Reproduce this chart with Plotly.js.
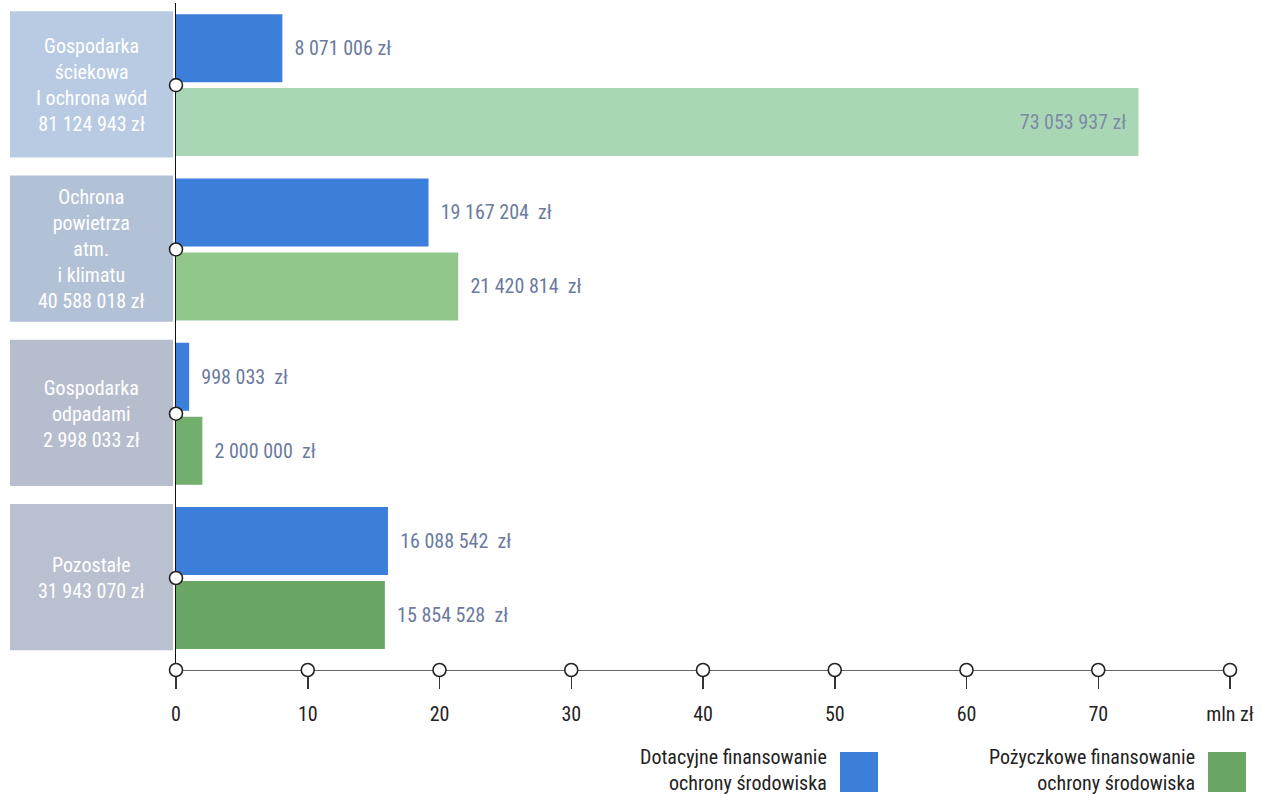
<!DOCTYPE html>
<html>
<head>
<meta charset="utf-8">
<script src="https://cdn.plot.ly/plotly-3.0.1.min.js"></script>
<style>html,body{margin:0;padding:0;background:#fff;}#chart{width:1263px;height:796px;}</style>
</head>
<body>
<div id="chart"></div>
<script>
// ---- data ----
const categories = ['Gospodarka ściekowa i ochrona wód', 'Ochrona powietrza atm. i klimatu', 'Gospodarka odpadami', 'Pozostałe'];
const categoryLabels = [
  'Gospodarka<br>ściekowa<br>I ochrona wód<br>81 124 943 zł',
  'Ochrona<br>powietrza<br>atm.<br>i klimatu<br>40 588 018 zł',
  'Gospodarka<br>odpadami<br>2 998 033 zł',
  'Pozostałe<br>31 943 070 zł'
];
const dotacyjne = [8.071006, 19.167204, 0.998033, 16.088542];   // mln zł
const pozyczkowe = [73.053937, 21.420814, 2.000000, 15.854528]; // mln zł
const dotacyjneText = ['8 071 006 zł', '19 167 204\u00a0 zł', '998 033\u00a0 zł', '16 088 542\u00a0 zł'];
const pozyczkoweText = ['73 053 937 zł', '21 420 814\u00a0 zł', '2 000 000\u00a0 zł', '15 854 528\u00a0 zł'];
const tickVals = [0, 10, 20, 30, 40, 50, 60, 70, 80];
const tickText = ['0', '10', '20', '30', '40', '50', '60', '70', 'mln zł'];
const legendNames = ['Dotacyjne finansowanie<br>ochrony środowiska', 'Pożyczkowe finansowanie<br>ochrony środowiska'];

// ---- styles ----
const FONT = '"Roboto Condensed", "Liberation Sans Narrow", "DejaVu Sans Condensed", Roboto, sans-serif';
const blue = '#3b7fda';
const greens = ['#a9d7b6', '#92c78b', '#72ae6c', '#6aa765'];
const boxColors = ['#b8cbe3', '#b3c1d7', '#b6bece', '#b9c0cf'];
const labelColor = '#6b7a9e';

const W = 1263, H = 796, ML = 176, MR = 33, MT = 3, MB = 126;
const PW = W - ML - MR, PH = H - MT - MB;
const pxX = p => (p - ML) / PW;
const pxY = p => (H - MB - p) / PH;

const pad = s => '\u00a0\u00a0' + s;

const traces = [
  {
    type: 'bar', orientation: 'h', name: 'Dotacyjne',
    y: categories, x: dotacyjne,
    marker: {color: blue},
    text: dotacyjneText.map(pad), textposition: 'outside', constraintext: 'none', cliponaxis: false,
    outsidetextfont: {family: FONT, size: 20, color: labelColor},
    hoverinfo: 'none'
  },
  {
    type: 'bar', orientation: 'h', name: 'Pożyczkowe',
    y: categories, x: pozyczkowe,
    marker: {color: greens},
    text: pozyczkoweText.map((t, i) => i === 0 ? t + '\u00a0\u00a0' : pad(t)),
    textposition: pozyczkowe.map((v, i) => i === 0 ? 'inside' : 'outside'),
    insidetextanchor: 'end', constraintext: 'none', cliponaxis: false,
    insidetextfont: {family: FONT, size: 20, color: '#7c8aa3'},
    outsidetextfont: {family: FONT, size: 20, color: labelColor},
    hoverinfo: 'none'
  },
  {
    type: 'scatter', mode: 'markers', x: categories.map(() => 0), y: categories,
    marker: {size: 13, color: '#ffffff', line: {color: '#222', width: 1.6}},
    cliponaxis: false, hoverinfo: 'none'
  },
  {
    type: 'scatter', mode: 'markers', x: tickVals, y: tickVals.map(() => 0), yaxis: 'y2',
    marker: {size: 13, color: '#ffffff', line: {color: '#222', width: 1.6}},
    cliponaxis: false, hoverinfo: 'none'
  }
];

const shapes = [];
const annotations = [];
categories.forEach((c, i) => {
  shapes.push({type: 'rect', xref: 'paper', yref: 'y', x0: pxX(10), x1: pxX(173), y0: i - 0.45, y1: i + 0.44,
    fillcolor: boxColors[i], line: {width: 0}, layer: 'below'});
  annotations.push({xref: 'paper', yref: 'y', x: pxX(91), y: i, text: categoryLabels[i], showarrow: false,
    xanchor: 'center', yanchor: 'middle', align: 'center',
    font: {family: FONT, size: 20, color: '#ffffff'}});
});

// legend
const legendItems = [
  {text: legendNames[0], right: 829, sq0: 840, sq1: 878, color: blue},
  {text: legendNames[1], right: 1197, sq0: 1208, sq1: 1246, color: greens[3]}
];
legendItems.forEach(it => {
  annotations.push({xref: 'paper', yref: 'paper', x: pxX(it.right), y: pxY(770), text: it.text, showarrow: false,
    xanchor: 'right', yanchor: 'middle', align: 'right',
    font: {family: FONT, size: 20, color: '#222'}});
  shapes.push({type: 'rect', xref: 'paper', yref: 'paper', x0: pxX(it.sq0), x1: pxX(it.sq1), y0: pxY(792), y1: pxY(752),
    fillcolor: it.color, line: {width: 0}});
});

const layout = {
  width: W, height: H,
  margin: {l: ML, r: MR, t: MT, b: MB, pad: 0},
  paper_bgcolor: '#ffffff', plot_bgcolor: 'rgba(0,0,0,0)',
  showlegend: false,
  barmode: 'group', bargap: 0.1, bargroupgap: 0.08,
  font: {family: FONT, size: 20, color: '#222'},
  xaxis: {
    range: [0, 80], tickvals: tickVals, ticktext: tickText,
    ticks: 'outside', ticklen: 18, tickwidth: 1.5, tickcolor: '#333',
    showline: true, linecolor: '#666', linewidth: 1.2,
    showgrid: false, zeroline: false, layer: 'below traces',
    tickfont: {family: FONT, size: 20, color: '#222'}, ticklabelstandoff: 8,
    fixedrange: true
  },
  yaxis: {
    type: 'category', categoryarray: categories, range: [3.56, -0.5],
    showticklabels: false, ticks: '', showgrid: false, zeroline: false,
    showline: true, linecolor: '#111', linewidth: 1.5, layer: 'below traces',
    fixedrange: true
  },
  yaxis2: {overlaying: 'y', range: [0, 1], visible: false, fixedrange: true},
  shapes: shapes,
  annotations: annotations
};

Plotly.newPlot('chart', traces, layout, {displayModeBar: false, staticPlot: true});
</script>
</body>
</html>
